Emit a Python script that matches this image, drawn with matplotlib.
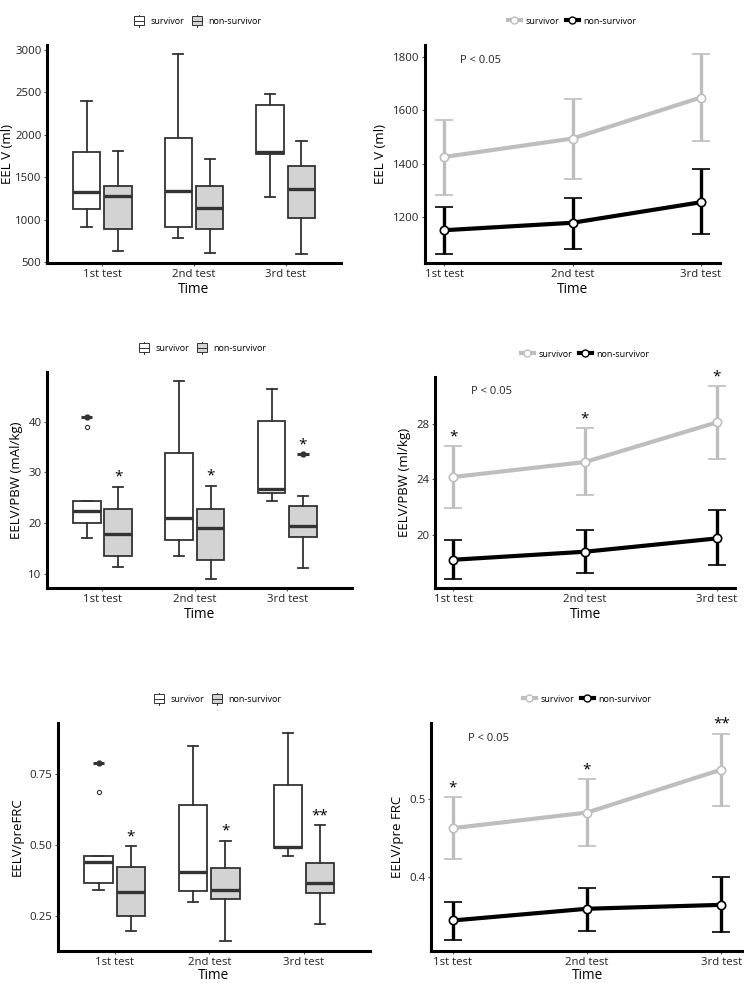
import matplotlib
matplotlib.use("Agg")
import matplotlib.pyplot as plt
from matplotlib.lines import Line2D
from matplotlib.patches import Rectangle, Patch
from matplotlib.legend_handler import HandlerBase

plt.rcParams['font.family'] = ['Open Sans', 'DejaVu Sans']

W, H = 744, 983
tests = ["1st test", "2nd test", "3rd test"]
groups = ["survivor", "non-survivor"]

# box stats per test: whisker low, Q1, median, Q3, whisker high
eelv_surv_box = [[913, 1130, 1327, 1799, 2398], [787, 913, 1339, 1965, 2953], [1268, 1772, 1799, 2346, 2476]]
eelv_non_box = [[626, 886, 1280, 1398, 1811], [610, 886, 1138, 1394, 1720], [598, 1024, 1366, 1634, 1925]]

pbw_surv_box = [[17.0, 20.0, 22.4, 24.4, 24.4], [13.6, 16.7, 21.1, 33.9, 48.0], [24.4, 25.9, 26.7, 40.1, 46.4]]
pbw_non_box = [[11.3, 13.5, 17.8, 22.7, 27.2], [9.0, 12.8, 19.0, 22.8, 27.4], [11.2, 17.3, 19.5, 23.4, 25.4]]
pbw_surv_fliers = [[39.0], [], []]
pbw_surv_dash = [40.9, None, None]
pbw_non_dash = [None, None, 33.7]
pbw_box_stars = ["*", "*", "*"]

frc_surv_box = [[0.341, 0.367, 0.439, 0.459, 0.459], [0.298, 0.339, 0.403, 0.640, 0.846], [0.459, 0.489, 0.493, 0.709, 0.893]]
frc_non_box = [[0.198, 0.250, 0.334, 0.422, 0.496], [0.162, 0.310, 0.340, 0.419, 0.515], [0.222, 0.332, 0.367, 0.435, 0.569]]
frc_surv_fliers = [[0.685], [], []]
frc_surv_dash = [0.789, None, None]
frc_non_dash = [None, None, None]
frc_box_stars = ["*", "*", "**"]

# mean with lower / upper error bar ends
eelv_surv_mean = [1425, 1494, 1648]
eelv_surv_lo = [1284, 1342, 1486]
eelv_surv_hi = [1565, 1641, 1810]
eelv_non_mean = [1150, 1178, 1255]
eelv_non_lo = [1062, 1081, 1135]
eelv_non_hi = [1238, 1271, 1378]

pbw_surv_mean = [24.18, 25.26, 28.12]
pbw_surv_lo = [21.93, 22.86, 25.5]
pbw_surv_hi = [26.44, 27.69, 30.74]
pbw_non_mean = [18.2, 18.78, 19.74]
pbw_non_lo = [16.8, 17.22, 17.8]
pbw_non_hi = [19.65, 20.37, 21.76]
pbw_line_stars = ["*", "*", "*"]

frc_surv_mean = [0.463, 0.483, 0.538]
frc_surv_lo = [0.423, 0.440, 0.491]
frc_surv_hi = [0.503, 0.526, 0.584]
frc_non_mean = [0.345, 0.360, 0.365]
frc_non_lo = [0.320, 0.332, 0.330]
frc_non_hi = [0.369, 0.387, 0.401]
frc_line_stars = ["*", "*", "**"]

GREY = "#BEBEBE"
EDGE = "#333333"


class BoxHandler(HandlerBase):
    def create_artists(self, legend, orig_handle, xd, yd, width, height, fontsize, trans):
        x0, y0 = -xd, -yd
        r = Rectangle((x0 + width * 0.1, y0), width * 0.8, height, facecolor=orig_handle.get_facecolor(),
                      edgecolor=EDGE, lw=0.7, transform=trans)
        m = Line2D([x0 + width * 0.1, x0 + width * 0.9], [y0 + height / 2] * 2, color=EDGE, lw=0.7, transform=trans)
        w1 = Line2D([x0 + width / 2] * 2, [y0 - height * 0.2, y0], color=EDGE, lw=0.7, transform=trans)
        w2 = Line2D([x0 + width / 2] * 2, [y0 + height, y0 + height * 1.2], color=EDGE, lw=0.7, transform=trans)
        return [r, m, w1, w2]


def make_axes(fig, l, r, t, b, xpad=1.5):
    ax = fig.add_axes([l / W, 1 - b / H, (r - l) / W, (b - t) / H])
    for s in ["top", "right"]:
        ax.spines[s].set_visible(False)
    for s in ["left", "bottom"]:
        ax.spines[s].set_linewidth(2.2)
        ax.spines[s].set_color("black")
    ax.tick_params(length=2.5, width=0.8, color="#555555", labelsize=8.2, labelcolor="#222222", pad=1.5)
    ax.set_xticks([1, 2, 3])
    ax.set_xticklabels(tests)
    ax.set_xlabel("Time", fontsize=9.8, labelpad=xpad)
    return ax


def stats(rows, fliers=None):
    out = []
    for i, (lo, q1, med, q3, hi) in enumerate(rows):
        out.append(dict(whislo=lo, q1=q1, med=med, q3=q3, whishi=hi,
                        fliers=fliers[i] if fliers else []))
    return out


def box_panel(ax, surv, non, surv_fliers=None, surv_dash=None, non_dash=None, stars=None, star_off=0):
    pos = [1, 2, 3]
    for data, fl, off, face in [(surv, surv_fliers, -0.17, "white"), (non, None, 0.17, "#D3D3D3")]:
        ax.bxp(stats(data, fl), positions=[p + off for p in pos], widths=0.30, capwidths=0.11,
               patch_artist=True, manage_ticks=False,
               boxprops=dict(facecolor=face, edgecolor=EDGE, lw=1.3),
               medianprops=dict(color=EDGE, lw=2.4),
               whiskerprops=dict(color=EDGE, lw=1.3),
               capprops=dict(color=EDGE, lw=1.3),
               flierprops=dict(marker="o", ms=3, mfc="white", mec=EDGE, mew=0.8))
    for dash, off in [(surv_dash, -0.17), (non_dash, 0.17)]:
        if dash is None:
            continue
        for p, v in zip(pos, dash):
            if v is not None:
                ax.plot([p + off - 0.06, p + off + 0.06], [v, v], color=EDGE, lw=2.2, solid_capstyle="butt")
                ax.plot(p + off, v, "o", color=EDGE, ms=3.5)
    if stars:
        for i, s in enumerate(stars):
            top = non[i][4]
            if non_dash and non_dash[i] is not None:
                top = max(top, non_dash[i])
            ax.text(pos[i] + 0.17, top + star_off, s, ha="center", va="center", fontsize=11)


def line_panel(ax, sm, slo, shi, nm, nlo, nhi, stars=None, star_off=0):
    x = [1, 2, 3]
    for m, lo, hi, c in [(sm, slo, shi, GREY), (nm, nlo, nhi, "black")]:
        yerr = [[a - b for a, b in zip(m, lo)], [b - a for a, b in zip(m, hi)]]
        ax.errorbar(x, m, yerr=yerr, color=c, lw=3, elinewidth=2.4, capsize=6.5, capthick=2.4,
                    marker="o", ms=6, mfc="white", mec=c, mew=1.2)
    if stars:
        for i, s in enumerate(stars):
            ax.text(x[i], shi[i] + star_off, s, ha="center", va="center", fontsize=11, clip_on=False)
    ax.text(0.12, 0.93, "P < 0.05", transform=ax.transAxes, fontsize=8, color="#222222", va="center")


def legend(fig, cx, cy, kind):
    if kind == "box":
        handles = [Patch(facecolor="white"), Patch(facecolor="#D3D3D3")]
        hmap = {Patch: BoxHandler()}
    else:
        handles = [Line2D([], [], color=GREY, lw=3, marker="o", ms=5, mfc="white", mec=GREY),
                   Line2D([], [], color="black", lw=3, marker="o", ms=5, mfc="white", mec="black")]
        hmap = {}
    fig.legend(handles, groups, loc="center", bbox_to_anchor=(cx / W, 1 - cy / H), ncol=2, frameon=False,
               fontsize=6.5, handlelength=1.4, handleheight=1.1, handletextpad=0.5, columnspacing=0.8,
               handler_map=hmap)


fig = plt.figure(figsize=(W / 100, H / 100), dpi=100)

ax1 = make_axes(fig, 47, 341, 45, 263)
box_panel(ax1, eelv_surv_box, eelv_non_box)
ax1.set_xlim(0.4, 3.6)
ax1.set_ylim(488, 3059)
ax1.set_yticks([500, 1000, 1500, 2000, 2500, 3000])
ax1.set_ylabel("EEL V (ml)", fontsize=9.5, labelpad=0.5)
legend(fig, 197, 21, "box")

ax2 = make_axes(fig, 425, 720, 45, 263)
line_panel(ax2, eelv_surv_mean, eelv_surv_lo, eelv_surv_hi, eelv_non_mean, eelv_non_lo, eelv_non_hi)
ax2.set_xlim(0.85, 3.15)
ax2.set_ylim(1027, 1845)
ax2.set_yticks([1200, 1400, 1600, 1800])
ax2.set_ylabel("EEL V (ml)", fontsize=9.5)
legend(fig, 572, 21, "line")

ax3 = make_axes(fig, 47, 352, 372, 588)
box_panel(ax3, pbw_surv_box, pbw_non_box, pbw_surv_fliers, pbw_surv_dash, pbw_non_dash, pbw_box_stars, 1.8)
ax3.set_xlim(0.4, 3.7)
ax3.set_ylim(7.2, 49.8)
ax3.set_yticks([10, 20, 30, 40])
ax3.set_ylabel("EELV/PBW (mAl/kg)", fontsize=9.5)
legend(fig, 202, 348, "box")

ax4 = make_axes(fig, 435, 735, 377, 588)
line_panel(ax4, pbw_surv_mean, pbw_surv_lo, pbw_surv_hi, pbw_non_mean, pbw_non_lo, pbw_non_hi, pbw_line_stars, 0.66)
ax4.set_xlim(0.86, 3.14)
ax4.set_ylim(16.16, 31.4)
ax4.set_yticks([20, 24, 28])
ax4.set_ylabel("EELV/PBW (ml/kg)", fontsize=9.5)
legend(fig, 585, 354, "line")

ax5 = make_axes(fig, 58, 370, 723, 951, xpad=0)
box_panel(ax5, frc_surv_box, frc_non_box, frc_surv_fliers, frc_surv_dash, frc_non_dash, frc_box_stars, 0.033)
ax5.set_xlim(0.4, 3.7)
ax5.set_ylim(0.127, 0.928)
ax5.set_yticks([0.25, 0.50, 0.75])
ax5.set_yticklabels(["0.25", "0.50", "0.75"])
ax5.set_ylabel("EELV/preFRC", fontsize=9.5)
legend(fig, 217, 699, "box")

ax6 = make_axes(fig, 431, 743, 723, 951, xpad=0)
line_panel(ax6, frc_surv_mean, frc_surv_lo, frc_surv_hi, frc_non_mean, frc_non_lo, frc_non_hi, frc_line_stars, 0.012)
ax6.set_xlim(0.84, 3.16)
ax6.set_ylim(0.306, 0.5975)
ax6.set_yticks([0.4, 0.5])
ax6.set_yticklabels(["0.4", "0.5"])
ax6.set_ylabel("EELV/pre FRC", fontsize=9.5)
legend(fig, 587, 699, "line")

fig.savefig("out.png", dpi=100)
